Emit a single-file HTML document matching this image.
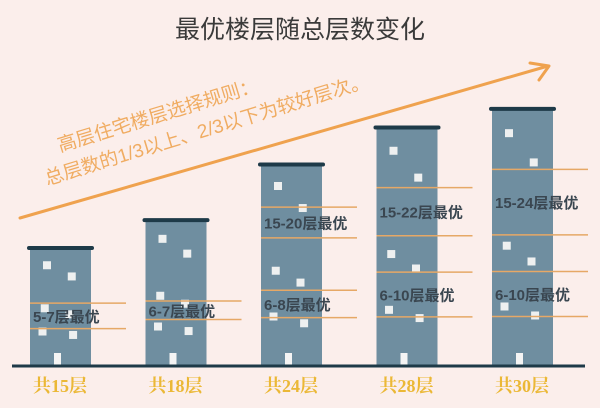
<!DOCTYPE html>
<html><head><meta charset="utf-8"><style>
body{margin:0;background:#fbeeeb;}
svg{display:block;font-family:"Liberation Sans","Noto Sans CJK SC",sans-serif;}
</style></head><body>
<svg id="chart" width="600" height="408" viewBox="0 0 600 408">
<rect width="600" height="408" fill="#fbeeeb"/>
<text x="300" y="38" text-anchor="middle" font-size="25" fill="#3a3a3a">最优楼层随总层数变化</text>
<g>
<line x1="20" y1="218" x2="548" y2="66" stroke="#efa24e" stroke-width="3" stroke-linecap="round"/>
<polyline points="530,63 549,66 539,80" fill="none" stroke="#efa24e" stroke-width="3" stroke-linecap="round" stroke-linejoin="round"/>
</g>
<g transform="rotate(-17 60 152)">
<text x="60" y="152" font-size="19" fill="#f0ac62">高层住宅楼层选择规则：</text>
<text x="38" y="180" font-size="19" fill="#f0ac62">总层数的1/3以上、2/3以下为较好层次。</text>
</g>
<g id="bars"></g>
<line x1="12" y1="366" x2="585" y2="366" stroke="#1e3a48" stroke-width="3"/>
</svg>
<script>
const categories = ["共15层","共18层","共24层","共28层","共30层"];
const totalFloors = [15,18,24,28,30];
const bestLow = ["5-7层最优","6-7层最优","6-8层最优","6-10层最优","6-10层最优"];
const bestHigh = ["","","15-20层最优","15-22层最优","15-24层最优"];
const lowRange = [[5,7],[6,7],[6,8],[6,10],[6,10]];
const highRange = [null,null,[15,20],[15,22],[15,24]];

const NS="http://www.w3.org/2000/svg";
const g=document.getElementById('bars');
const baseY=365;
function xPos(i){return 30+i*115.5;}
function hOf(f){return -23+9.27*f;}
function yFloor(f,total){const h=hOf(total);return baseY-h*(f/total);}
function mk(tag,attrs){const e=document.createElementNS(NS,tag);for(const k in attrs)e.setAttribute(k,attrs[k]);g.appendChild(e);return e;}
const winRel=[[0.2,0.05],[0.75,0.18],[0.15,0.55],[0.7,0.62],[0.1,0.82],[0.78,0.86]];
categories.forEach((c,i)=>{
  const x=xPos(i), w=61, T=totalFloors[i], h=hOf(T), top=baseY-h;
  const b=mk('rect',{x:x,y:top,width:w,height:h,fill:'#6f8ea0'});
  
  
  const r=mk('rect',{x:x-3,y:top-3,width:w+6,height:4,rx:2,fill:'#1e3a48'});
  
  
  winRel.forEach((p,k)=>{
    const wy=top+8+p[1]*(h-30);
    const wn=mk('rect',{x:x+4+p[0]*(w-16),y:wy,width:8,height:8,fill:'#eef0f0'});
    
    
  });
  const dr=mk('rect',{x:x+24,y:baseY-12,width:7,height:12,fill:'#f4f4f4'});
  
  
  const bands=[[lowRange[i],0],[highRange[i],1]].filter(d=>d[0]);
  bands.forEach(([rg,bi])=>{
    const fa = bi===0 ? rg[0]-0.3 : rg[0]+0.3;
    const fb = bi===0 ? rg[1]+1 : rg[1]-1;
    [fa,fb].forEach(f=>{
      const y=yFloor(f,T);
      const l=mk('line',{x1:x,y1:y,x2:x+96,y2:y,stroke:'#e6a866','stroke-width':1.5});
      
      
    });
    const ty=(yFloor(fa,T)+yFloor(fb,T))/2+6;
    const t=mk('text',{x:x+3,y:ty,'font-size':15,fill:'#3a4650','font-weight':'bold'});
    t.textContent=bi===0?bestLow[i]:bestHigh[i];
    
    
  });
  const lb=mk('text',{x:x+30,y:392,'text-anchor':'middle','font-size':18,'font-weight':'bold',fill:'#ebb836','font-family':'"Liberation Serif","Noto Serif CJK SC",serif'});
  lb.textContent=c;
  
  
});
</script>
</body></html>
